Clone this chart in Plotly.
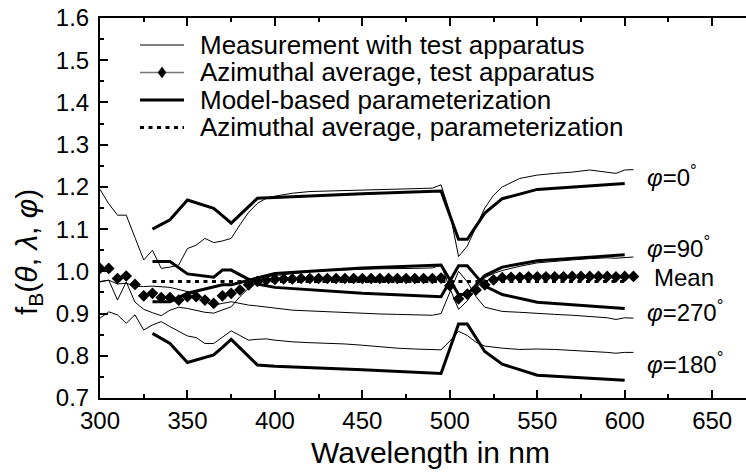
import plotly.graph_objects as go

# ---------------- data ----------------
wl_meas = [300, 305, 310, 315, 320, 325, 330, 335, 340, 345, 350, 355, 360, 365, 370, 375,
           380, 385, 390, 395, 400, 410, 420, 430, 440, 450, 460, 470, 480, 490, 495, 500,
           505, 510, 515, 520, 525, 530, 540, 550, 560, 570, 580, 590, 595, 600, 605]

meas_phi0 = [1.194, 1.160, 1.133, 1.133, 1.080, 1.027, 1.050, 1.007, 1.010, 1.015, 1.054, 1.062,
             1.078, 1.068, 1.072, 1.078, 1.110, 1.140, 1.161, 1.173, 1.178, 1.185, 1.189, 1.190,
             1.191, 1.192, 1.193, 1.194, 1.196, 1.197, 1.205, 1.140, 1.035, 1.060, 1.105, 1.150,
             1.180, 1.200, 1.220, 1.228, 1.232, 1.235, 1.240, 1.235, 1.232, 1.240, 1.241]

meas_phi90 = [0.975, 0.979, 0.932, 0.975, 0.927, 0.910, 0.902, 0.895, 0.908, 0.915, 0.912, 0.908,
              0.903, 0.901, 0.908, 0.916, 0.940, 0.960, 0.976, 0.987, 0.990, 0.995, 0.999, 1.002,
              1.004, 1.005, 1.006, 1.006, 1.007, 1.008, 1.015, 0.960, 0.910, 0.930, 0.960, 0.985,
              0.995, 1.002, 1.012, 1.020, 1.024, 1.027, 1.030, 1.032, 1.031, 1.033, 1.034]

meas_phi270 = [0.976, 0.979, 0.970, 0.972, 0.965, 0.964, 0.965, 0.964, 0.962, 0.957, 0.952, 0.945,
               0.932, 0.920, 0.924, 0.928, 0.924, 0.920, 0.918, 0.916, 0.913, 0.908, 0.906, 0.904,
               0.902, 0.900, 0.899, 0.898, 0.897, 0.896, 0.900, 0.950, 1.000, 0.975, 0.940, 0.915,
               0.910, 0.905, 0.903, 0.900, 0.898, 0.896, 0.893, 0.890, 0.886, 0.890, 0.889]

meas_phi180 = [0.889, 0.904, 0.897, 0.877, 0.897, 0.861, 0.873, 0.881, 0.869, 0.858, 0.847, 0.843,
               0.829, 0.829, 0.844, 0.859, 0.848, 0.837, 0.839, 0.840, 0.837, 0.833, 0.831, 0.830,
               0.828, 0.825, 0.821, 0.818, 0.816, 0.815, 0.814, 0.835, 0.858, 0.848, 0.832, 0.823,
               0.820, 0.818, 0.815, 0.816, 0.815, 0.813, 0.811, 0.808, 0.806, 0.808, 0.808]

wl_avg = list(range(300, 610, 5))
avg_meas = [1.007, 1.007, 0.983, 0.989, 0.969, 0.942, 0.948, 0.938, 0.938, 0.932, 0.940, 0.940,
            0.932, 0.924, 0.942, 0.948, 0.956, 0.968, 0.976, 0.979, 0.981, 0.982, 0.982, 0.983,
            0.983, 0.983, 0.983, 0.983, 0.983, 0.983, 0.983, 0.983, 0.983, 0.983, 0.983, 0.983,
            0.983, 0.983, 0.983, 0.984, 0.966, 0.935, 0.946, 0.956, 0.968, 0.980, 0.985, 0.986,
            0.986, 0.987, 0.987, 0.987, 0.987, 0.987, 0.988, 0.988, 0.988, 0.988, 0.988, 0.987,
            0.988, 0.988]

wl_model = [330, 340, 350, 365, 370, 375, 390, 400, 450, 495, 505, 510, 520, 530, 550, 600]
model_phi0 = [1.100, 1.122, 1.169, 1.149, 1.132, 1.114, 1.173, 1.175, 1.184, 1.190, 1.076, 1.076,
              1.138, 1.172, 1.194, 1.208]
model_phi90 = [0.928, 0.928, 0.948, 0.962, 0.968, 0.968, 0.985, 0.995, 1.008, 1.015, 0.945, 0.945,
               0.990, 1.010, 1.025, 1.039]
model_phi270 = [1.023, 1.023, 0.994, 0.986, 1.003, 1.003, 0.970, 0.962, 0.948, 0.940, 1.013, 1.013,
                0.965, 0.945, 0.927, 0.912]
model_phi180 = [0.853, 0.829, 0.784, 0.802, 0.820, 0.839, 0.778, 0.775, 0.767, 0.758, 0.875, 0.875,
                0.810, 0.780, 0.754, 0.742]
model_avg = [0.976, 0.976, 0.976, 0.976, 0.977, 0.977, 0.977, 0.977, 0.977, 0.977, 0.977, 0.977,
             0.977, 0.977, 0.976, 0.976]

legend_labels = ["Measurement with test apparatus", "Azimuthal average, test apparatus",
                 "Model-based parameterization", "Azimuthal average, parameterization"]
curve_labels = ["φ=0", "φ=90", "Mean", "φ=270", "φ=180"]
curve_label_y = [1.226, 1.057, 0.986, 0.906, 0.783]

# ---------------- figure ----------------
FONT = "Liberation Sans, Arial, Helvetica, sans-serif"
W, H = 746, 473
L, R, T, B = 100, 0, 18, 75
PW, PH = W - L - R, H - T - B

fig = go.Figure()

for ys in (meas_phi0, meas_phi90, meas_phi270, meas_phi180):
    fig.add_trace(go.Scatter(x=wl_meas, y=ys, mode="lines",
                             line=dict(color="black", width=1), showlegend=False))
for ys in (model_phi0, model_phi90, model_phi270, model_phi180):
    fig.add_trace(go.Scatter(x=wl_model, y=ys, mode="lines",
                             line=dict(color="black", width=3), showlegend=False))
fig.add_trace(go.Scatter(x=wl_model, y=model_avg, mode="lines",
                         line=dict(color="black", width=3, dash="4px,4.5px"), showlegend=False))
fig.add_trace(go.Scatter(x=wl_avg, y=avg_meas, mode="markers",
                         marker=dict(symbol="diamond", size=9, color="black"), showlegend=False))

# manual legend (pixel positions converted to paper fractions)
def px(xp):
    return (xp - L) / PW

def py(yp):
    return (H - B - yp) / PH

rows = [45, 72.5, 100, 127.5]
x0l, x1l, xtext = 140, 184, 198
shapes = []
annotations = []
shapes.append(dict(type="line", xref="paper", yref="paper", x0=px(x0l), x1=px(x1l),
                   y0=py(rows[0]), y1=py(rows[0]), line=dict(color="black", width=1)))
shapes.append(dict(type="line", xref="paper", yref="paper", x0=px(x0l), x1=px(x1l),
                   y0=py(rows[1]), y1=py(rows[1]), line=dict(color="#777777", width=1.5)))
shapes.append(dict(type="path", xref="paper", yref="paper", xsizemode="pixel", ysizemode="pixel",
                   xanchor=px((x0l + x1l) / 2), yanchor=py(rows[1]),
                   path="M0,5.5 L4,0 L0,-5.5 L-4,0 Z", fillcolor="black",
                   line=dict(color="black", width=0.5)))
shapes.append(dict(type="line", xref="paper", yref="paper", x0=px(x0l), x1=px(x1l),
                   y0=py(rows[2]), y1=py(rows[2]), line=dict(color="black", width=3)))
shapes.append(dict(type="line", xref="paper", yref="paper", x0=px(x0l), x1=px(x1l),
                   y0=py(rows[3]), y1=py(rows[3]),
                   line=dict(color="black", width=3, dash="4px,4.5px")))
for r, lab in zip(rows, legend_labels):
    annotations.append(dict(text=lab, xref="paper", yref="paper", x=px(xtext), y=py(r),
                            xanchor="left", yanchor="middle", showarrow=False,
                            font=dict(family=FONT, size=26, color="black")))

for lab, yv in zip(curve_labels, curve_label_y):
    txt = lab if lab == "Mean" else lab.replace("φ", "<i>φ</i>") + "<sup>°</sup>"
    annotations.append(dict(text=txt, x=615.5 if lab == "Mean" else 611.5, y=yv,
                            xref="x", yref="y", xanchor="left", yanchor="middle",
                            showarrow=False, font=dict(family=FONT, size=24, color="black")))

annotations.append(dict(text="f<sub>B</sub>(<i>θ</i>, <i>λ</i>, <i>φ</i>)", xref="paper", yref="paper",
                        x=px(28), y=py(252), xanchor="center", yanchor="middle", textangle=-90,
                        showarrow=False, font=dict(family=FONT, size=30, color="black")))

annotations.append(dict(text="Wavelength in nm", xref="paper", yref="paper",
                        x=px(430), y=py(452), xanchor="center", yanchor="middle",
                        showarrow=False, font=dict(family=FONT, size=30, color="black")))

fig.update_layout(
    width=W, height=H, autosize=False,
    margin=dict(l=L, r=R, t=T, b=B, pad=0),
    paper_bgcolor="white", plot_bgcolor="white",
    font=dict(family=FONT, size=24, color="black"),
    shapes=shapes, annotations=annotations, showlegend=False,
)
fig.update_xaxes(range=[300, 300 + PW / 1.749], tick0=300, dtick=50, ticks="inside", ticklen=8,
                 tickwidth=2, tickcolor="black", showline=True, linewidth=2, linecolor="black",
                 mirror="ticks", showgrid=False, zeroline=False,
                 ticklabelstandoff=0,
                 minor=dict(dtick=25, ticks="inside", ticklen=4, tickwidth=2, tickcolor="black",
                            showgrid=False),
                 tickfont=dict(family=FONT, size=24))
fig.update_yaxes(range=[0.7, 1.6], tick0=0.7, dtick=0.1, tickformat=".1f", ticks="inside",
                 ticklen=8, tickwidth=2, tickcolor="black", showline=True, linewidth=2,
                 linecolor="black", mirror=False, showgrid=False, zeroline=False,
                 ticklabelstandoff=4,
                 minor=dict(dtick=0.05, ticks="inside", ticklen=4, tickwidth=2, tickcolor="black",
                            showgrid=False),
                 tickfont=dict(family=FONT, size=24))

fig.write_html("out.html", config={"displayModeBar": False},
               post_script="document.body.style.margin='0';document.body.style.overflow='hidden';")
